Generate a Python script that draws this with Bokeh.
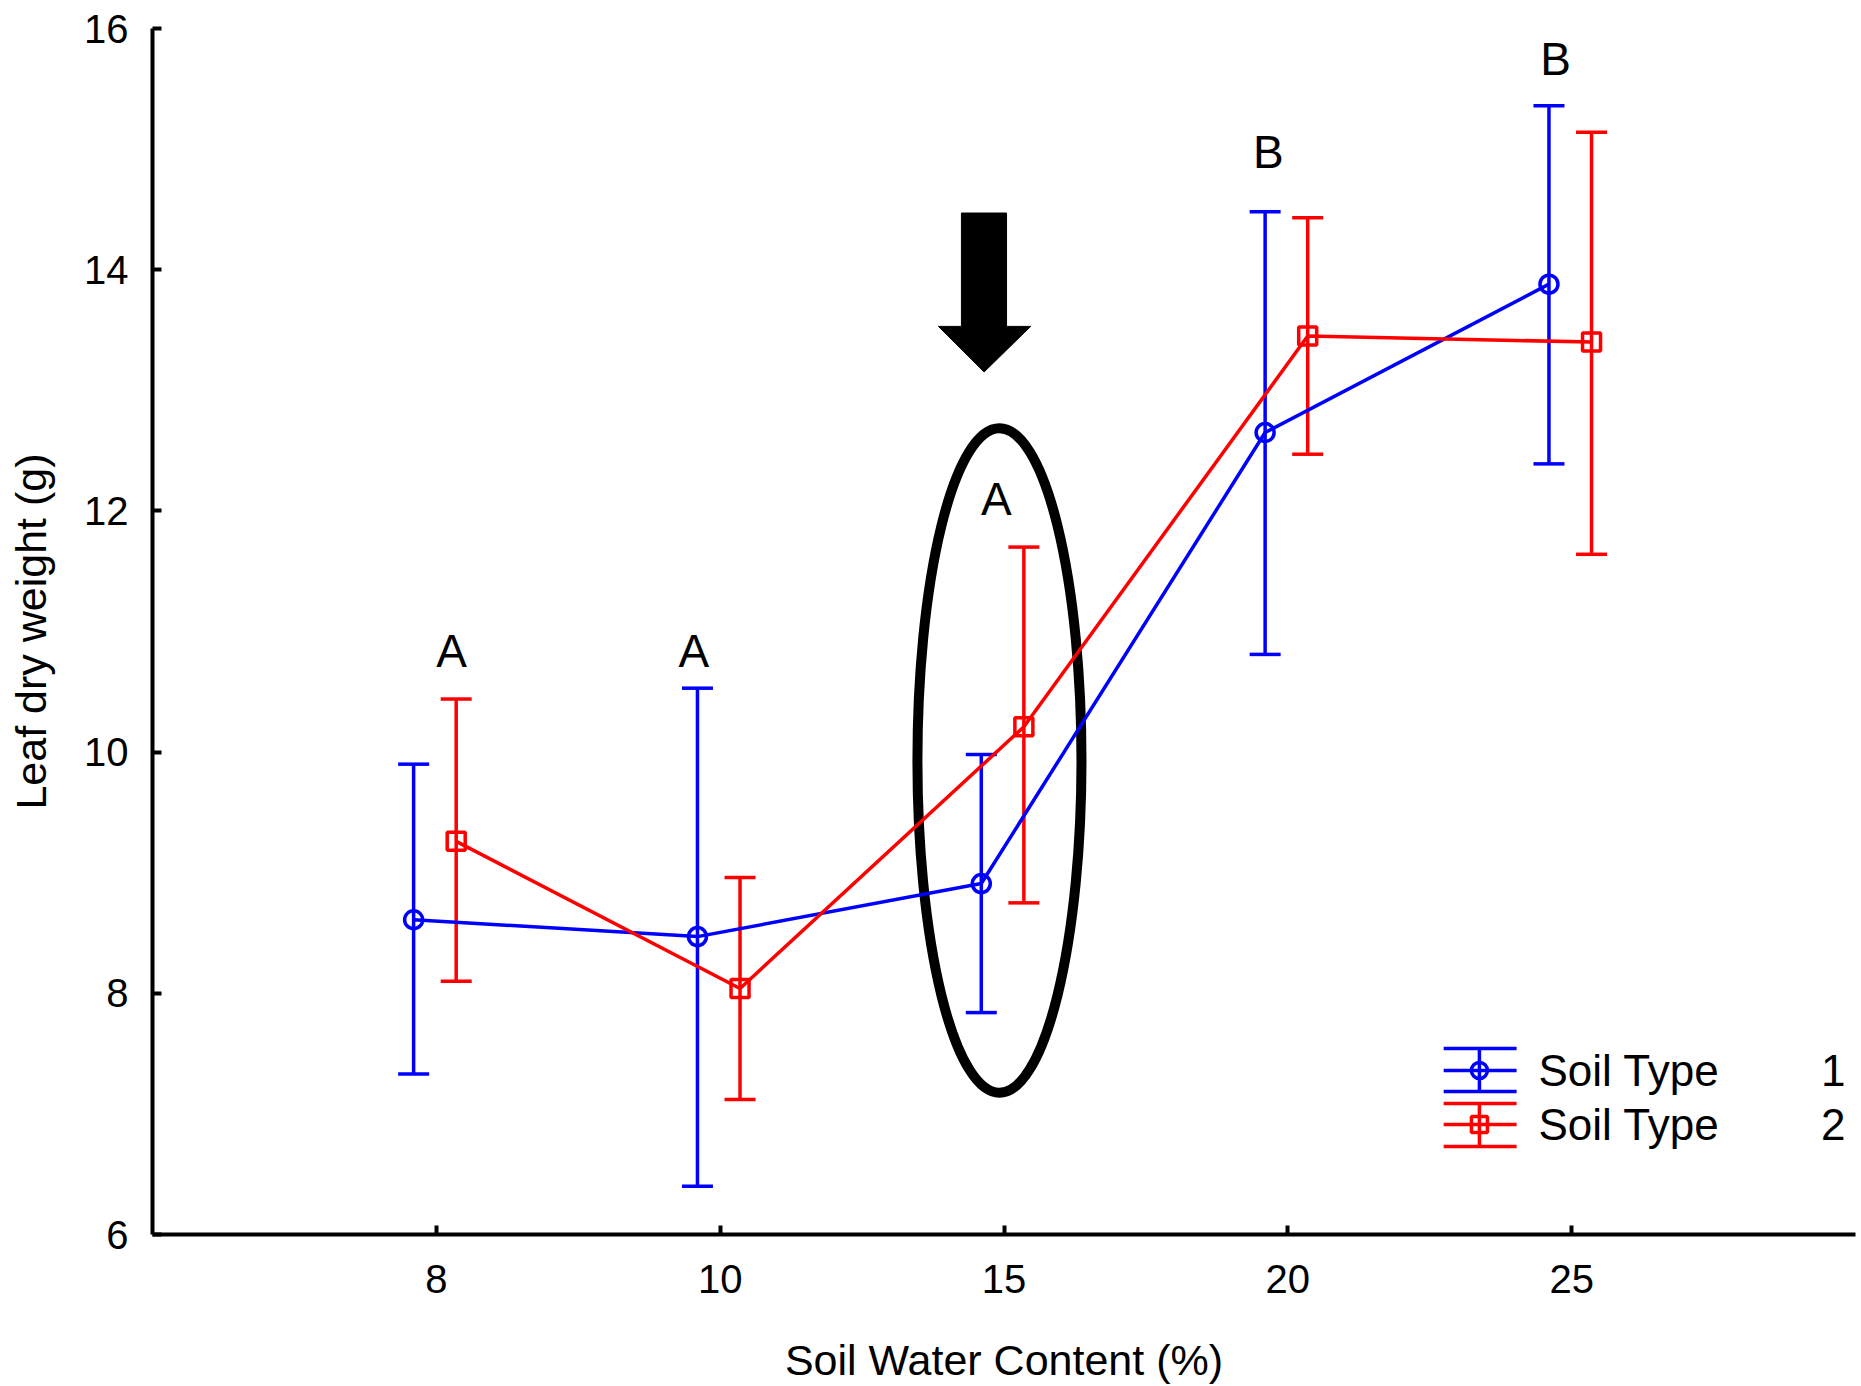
from bokeh.plotting import figure
from bokeh.models import ColumnDataSource, Whisker, TeeHead, FixedTicker, Range1d
from bokeh.core.properties import value
from bokeh.embed import file_html
from bokeh.resources import INLINE

# ---- data ----
water_content = ["8", "10", "15", "20", "25"]
soil1_mean = [8.61, 8.47, 8.91, 12.65, 13.88]
soil1_upper = [9.90, 10.53, 9.98, 14.48, 15.36]
soil1_lower = [7.33, 6.40, 7.84, 10.81, 12.39]
soil2_mean = [9.26, 8.04, 10.21, 13.45, 13.40]
soil2_upper = [10.44, 8.96, 11.70, 14.43, 15.14]
soil2_lower = [8.10, 7.12, 8.75, 12.47, 11.64]
group_letters = ["A", "A", "A", "B", "B"]
letter_y = [10.84, 10.84, 12.10, 14.98, 15.75]
series_names = ["Soil Type", "Soil Type"]
series_ids = ["1", "2"]

FONT = "Liberation Sans"
BLUE = "#0000ff"
RED = "#ff0000"

pos = list(range(1, len(water_content) + 1))
off1, off2 = -0.08, 0.07
x1 = [p_ + off1 for p_ in pos]
x2 = [p_ + off2 for p_ in pos]

p = figure(width=1861, height=1386, output_backend="svg", toolbar_location=None,
           x_range=Range1d(0, 6), y_range=Range1d(6, 16),
           min_border_left=152, min_border_right=6, min_border_top=28, min_border_bottom=150)
p.outline_line_color = None
p.xgrid.visible = False
p.ygrid.visible = False
p.background_fill_color = "white"
p.border_fill_color = "white"

for ax in (p.xaxis[0], p.yaxis[0]):
    ax.axis_line_width = 4
    ax.axis_line_color = "black"
    ax.major_tick_in = 9
    ax.major_tick_out = 0
    ax.major_tick_line_width = 4
    ax.minor_tick_line_color = None
    ax.major_label_text_font = FONT
    ax.major_label_text_font_size = "40px"
    ax.major_label_text_color = "black"
    ax.axis_label_text_font = FONT
    ax.axis_label_text_font_size = "43px"
    ax.axis_label_text_font_style = "normal"
    ax.axis_label_text_color = "black"

p.xaxis.ticker = FixedTicker(ticks=pos)
p.xaxis.major_label_overrides = {i: w for i, w in zip(pos, water_content)}
p.xaxis.major_label_standoff = 30
p.xaxis.axis_label = "Soil Water Content (%)"
p.xaxis.axis_label_standoff = 40

p.yaxis.ticker = FixedTicker(ticks=[6, 8, 10, 12, 14, 16])
p.yaxis.major_label_standoff = 24
p.yaxis.axis_label = "Leaf dry weight (g)"
p.yaxis.axis_label_standoff = 26

# ellipse highlight
p.ellipse(x=[2.984], y=[9.93], width=0.578, height=5.51, fill_color=None,
          line_color="black", line_width=10)

# arrow
ax_c = 2.93
p.patch(x=[2.850, 3.009, 3.009, 3.094, ax_c, 2.769, 2.850],
        y=[14.47, 14.47, 13.53, 13.53, 13.152, 13.53, 13.53],
        fill_color="black", line_color="black", line_width=1)

# series
for xs, m, up, lo, col, mk in [(x1, soil1_mean, soil1_upper, soil1_lower, BLUE, "circle"),
                               (x2, soil2_mean, soil2_upper, soil2_lower, RED, "square")]:
    src = ColumnDataSource(dict(x=xs, m=m, up=up, lo=lo))
    w = Whisker(source=src, base="x", upper="up", lower="lo", dimension="height",
                line_color=col, line_width=3.5,
                upper_head=TeeHead(size=31, line_color=col, line_width=3.5),
                lower_head=TeeHead(size=31, line_color=col, line_width=3.5))
    p.add_layout(w)
    p.line("x", "m", source=src, line_color=col, line_width=3.5)
    p.scatter("x", "m", source=src, marker=mk, size=18, fill_color=None,
              line_color=col, line_width=3.5)

# group letters
letter_off = [0.054, -0.093, -0.027, -0.069, -0.057]
p.text(x=[p_ + o for p_, o in zip(pos, letter_off)], y=letter_y, text=group_letters,
       text_font=value(FONT), text_font_size="46px", text_align="center",
       text_baseline="middle", text_color="black")

# custom legend
lx0, lx1, lxc = 4.549, 4.806, 4.675
rows = [(7.542, 7.360, 7.186, BLUE, "circle"), (7.086, 6.912, 6.730, RED, "square")]
for (yt, ym, yb, col, mk), nm, sid in zip(rows, series_names, series_ids):
    p.segment(x0=[lx0] * 3, x1=[lx1] * 3, y0=[yt, ym, yb], y1=[yt, ym, yb],
              line_color=col, line_width=3.5)
    p.segment(x0=[lxc], x1=[lxc], y0=[yt], y1=[yb], line_color=col, line_width=3.5)
    p.scatter(x=[lxc], y=[ym], marker=mk, size=16, fill_color=None, line_color=col,
              line_width=3.5)
    p.text(x=[4.883], y=[ym], text=[nm], text_font=value(FONT), text_font_size="44px",
           text_align="left", text_baseline="middle", text_color="black")
    p.text(x=[5.965], y=[ym], text=[sid], text_font=value(FONT), text_font_size="44px",
           text_align="right", text_baseline="middle", text_color="black")

open("out.html", "w").write(file_html(p, INLINE))
